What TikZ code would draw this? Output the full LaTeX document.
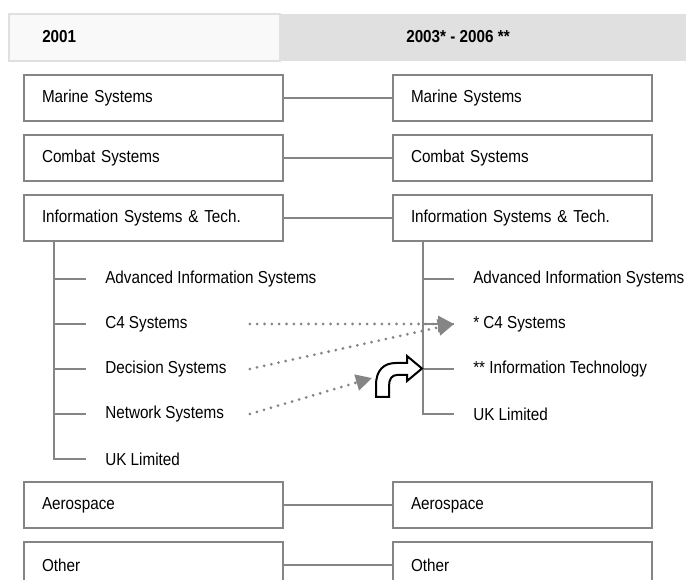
\documentclass[tikz,border=0pt]{standalone}
\usepackage{fontspec}
\setmainfont{Liberation Sans}[FakeStretch=0.88]
\usetikzlibrary{arrows.meta,calc,positioning}
\definecolor{LineGray}{HTML}{858585}
\definecolor{DotGray}{HTML}{858585}
\definecolor{HeadGray}{HTML}{E0E0E0}
\definecolor{HeadLight}{HTML}{F9F9F9}

\tikzset{
  divbox/.style={draw=LineGray, line width=1.3pt, fill=white, minimum width=194.25pt,
    minimum height=34.5pt, text width=167.25pt, inner xsep=13.5pt, align=left,
    font=\fontsize{13}{15}\selectfont},
  subitem/.style={anchor=west, inner sep=0pt, font=\fontsize{13}{15}\selectfont},
  headtxt/.style={anchor=west, inner sep=0pt, font=\fontsize{13}{15}\selectfont\bfseries},
  conn/.style={draw=LineGray, line width=1.2pt},
  moved/.style={draw=DotGray, line width=2.3pt, line cap=round, dash pattern=on 0pt off 5.5pt,
    -{Triangle[length=12pt,width=12pt]}}
}

\begin{document}
\begin{tikzpicture}[x=0.75pt, y=-0.75pt]
    \useasboundingbox (0,0) rectangle (686,580);
    \clip (0,0) rectangle (686,580);

    % Header band
    \fill[HeadGray] (280,14) rectangle (686,61);
    \draw[HeadGray, fill=HeadLight, line width=1.3pt] (9,14) rectangle (280,61);
    \node[headtxt] (y01) at (42,37) {2001};
    \node[headtxt] (y06) at (406,37) {2003* - 2006 **};

    % Divisions, 2001
    \node[divbox] (msL) at (153.5,98) {Marine Systems};
    \node[divbox] (csL) at (153.5,158) {Combat Systems};
    \node[divbox] (isL) at (153.5,218) {Information Systems \& Tech.};
    \node[divbox] (aeL) at (153.5,505) {Aerospace};
    \node[divbox] (otL) at (153.5,565) {Other};

    % Divisions, 2003 - 2006
    \node[divbox] (msR) at (522.5,98) {Marine Systems};
    \node[divbox] (csR) at (522.5,158) {Combat Systems};
    \node[divbox] (isR) at (522.5,218) {Information Systems \& Tech.};
    \node[divbox] (aeR) at (522.5,505) {Aerospace};
    \node[divbox] (otR) at (522.5,565) {Other};

    % Links between the two years
    \foreach \d in {ms,cs,is,ae,ot}
        \draw[conn] (\d L) -- (\d R);

    % IS&T units, 2001
    \node[subitem] (aisL) at (105,279) {Advanced Information Systems};
    \node[subitem] (c4L) at (105,324) {C4 Systems};
    \node[subitem] (dsL) at (105,369) {Decision Systems};
    \node[subitem] (nsL) at (105,414) {Network Systems};
    \node[subitem] (ukL) at (105,459) {UK Limited};

    % IS&T units, 2003 - 2006
    \node[subitem] (aisR) at (473,279) {Advanced Information Systems};
    \node[subitem] (c4R) at (473,324) {* C4 Systems};
    \node[subitem] (itR) at (473,369) {** Information Technology};
    \node[subitem] (ukR) at (473,414) {UK Limited};

    % Tree lines
    \coordinate (trL) at ($(isL.south west)+(31,0)$);
    \coordinate (trR) at ($(isR.south west)+(31,0)$);
    \draw[conn] (trL) |- ($(ukL.west)+(-19,0)$);
    \foreach \u in {aisL,c4L,dsL,nsL}
        \draw[conn] (trL |- \u.west) -- ($(\u.west)+(-19,0)$);
    \draw[conn] (trR) |- ($(ukR.west)+(-19,0)$);
    \foreach \u in {aisR,c4R,itR}
        \draw[conn] (trR |- \u.west) -- ($(\u.west)+(-19,0)$);

    % Moves
    \coordinate (c4Tip) at ($(c4R.west)+(-19,0)$);
    \coordinate (nsTip) at (372,378);
    \draw[moved] ($(c4L.west -| isL.east)+(-34,0)$) -- (c4Tip);
    \draw[moved] ($(dsL.west -| isL.east)+(-34,0)$) -- (c4Tip);
    \draw[moved] ($(nsL.west -| isL.east)+(-34,0)$) -- (nsTip);

    % Bent arrow into Information Technology
    \draw[black, fill=white, line width=1.5pt, line join=miter]
        (376,397) -- (376,385) .. controls (376,370) and (384,363) .. (396,363)
        -- (407,363) -- (407,356) -- (422,368.5) -- (407,381) -- (407,375)
        -- (397,375) .. controls (392,375) and (389,379) .. (389,386) -- (389,397) -- cycle;

\end{tikzpicture}
\end{document}
